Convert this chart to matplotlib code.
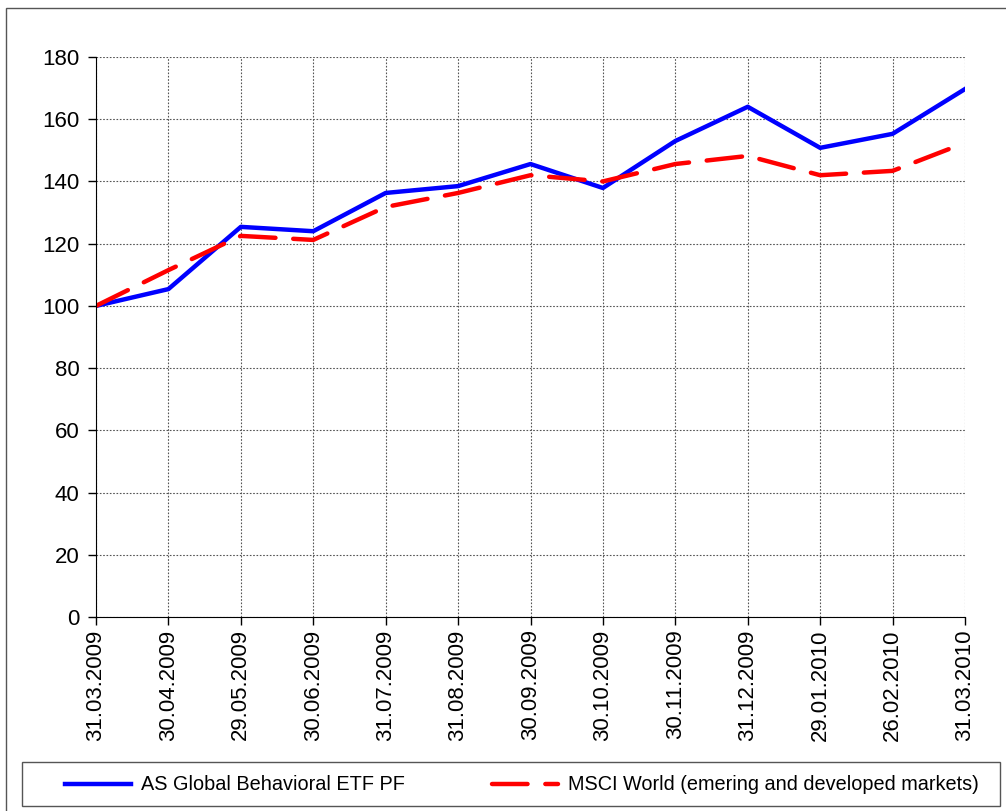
import matplotlib.pyplot as plt
from matplotlib.patches import Rectangle

plt.rcParams['font.family'] = ['Liberation Sans', 'DejaVu Sans']

dates = ["31.03.2009", "30.04.2009", "29.05.2009", "30.06.2009", "31.07.2009",
         "31.08.2009", "30.09.2009", "30.10.2009", "30.11.2009", "31.12.2009",
         "29.01.2010", "26.02.2010", "31.03.2010"]
etf_pf = [100, 105.4, 125.4, 124.0, 136.3, 138.5, 145.6, 137.9, 153.0, 164.0,
          150.8, 155.3, 169.7]
msci_world = [100, 111.5, 122.5, 121.2, 131.8, 136.3, 142.0, 140.0, 145.6, 148.2,
              142.0, 143.4, 152.4]

W, H = 1006, 811
fig = plt.figure(figsize=(W / 100, H / 100), dpi=100)
ax = fig.add_axes([96 / W, 1 - 617 / H, (965 - 96) / W, (617 - 57) / H])

# outer chart frame
fig.patches.append(Rectangle((6 / W, -0.05), 1.2, 1 - 8 / H + 0.05,
                             transform=fig.transFigure, fill=False,
                             edgecolor='#555555', linewidth=1))
# legend frame
fig.patches.append(Rectangle((22 / W, 1 - 806 / H), (1000 - 22) / W, 44 / H,
                             transform=fig.transFigure, fill=False,
                             edgecolor='#555555', linewidth=1))

x = range(len(dates))
ax.plot(x, etf_pf, color='#0000ff', linewidth=3.2,
        label="AS Global Behavioral ETF PF")
ax.plot(x, msci_world, color='#ff0000', linewidth=3.2, dashes=(8, 4),
        dash_capstyle='round',
        label="MSCI World (emering and developed markets)")

ax.set_xlim(0, len(dates) - 1)
ax.set_ylim(0, 180)
ax.set_yticks(range(0, 181, 20))
ax.set_xticks(list(x))
ax.set_xticklabels(dates, rotation=90)
ax.tick_params(labelsize=16, length=6, direction='out', width=1)
ax.tick_params(axis='y', pad=6)
ax.tick_params(axis='x', pad=3)

ax.grid(True, color='#555555', linestyle=(0, (1.5, 1.5)), linewidth=0.8)
ax.set_axisbelow(True)
for s in ['top', 'right']:
    ax.spines[s].set_visible(False)

leg = fig.legend(loc='center', ncol=2, bbox_to_anchor=(522 / W, 1 - 785 / H),
                 fontsize=14.3, frameon=False, handlelength=3.3,
                 handletextpad=0.5, columnspacing=4.4, borderaxespad=0)

fig.savefig("out.png", dpi=100)
